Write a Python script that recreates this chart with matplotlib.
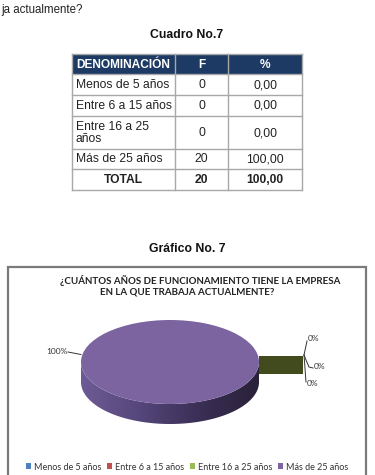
import numpy as np
import matplotlib
matplotlib.use("Agg")
import matplotlib.pyplot as plt
from matplotlib.patches import Rectangle, Polygon, Patch
from matplotlib.colors import LinearSegmentedColormap

# ---------------- data ----------------
categories = ["Menos de 5 años", "Entre 6 a 15 años", "Entre 16 a 25\naños", "Más de 25 años"]
legend_labels = ["Menos de 5 años", "Entre 6 a 15 años", "Entre 16 a 25 años", "Más de 25 años"]
freq = [0, 0, 0, 20]
pct = [0.00, 0.00, 0.00, 100.00]
total_label = "TOTAL"
headers = ["DENOMINACIÓN", "F", "%"]
pie_colors = ["#4f81bd", "#c0504d", "#9bbb59", "#7b64a0"]
legend_colors = ["#4f81bd", "#c0504d", "#9bbb59", "#8064a2"]

W, H = 375, 475
fig = plt.figure(figsize=(W / 100, H / 100), dpi=100)
fig.patch.set_facecolor("white")
ax = fig.add_axes([0, 0, 1, 1])
ax.set_xlim(0, W)
ax.set_ylim(H, 0)
ax.axis("off")

ARIAL = "Liberation Sans"
CAL = "Lato"

def fmt(v):
    return f"{v:.2f}".replace(".", ",")

# top text (continuation of the question from the previous page)
ax.text(1, 10, "ja actualmente?", ha="left", va="center", fontsize=8.3,
        family=ARIAL, color="#222222")

ax.text(187, 35, "Cuadro No.7", ha="center", va="center", fontsize=8.8,
        family=ARIAL, weight="bold", color="#111111")

# ---------------- table ----------------
cols = [72, 175, 228, 302]
rows = [54, 74, 95, 116, 149, 169, 190]
border = "#a8a8a8"
ax.add_patch(Rectangle((cols[0], rows[0]), cols[-1] - cols[0], rows[1] - rows[0],
                       facecolor="#1c3a64", edgecolor="none"))
for i, h in enumerate(headers):
    if i == 0:
        ax.text(cols[0] + 4, (rows[0] + rows[1]) / 2 + 0.5, h, ha="left", va="center",
                fontsize=8.6, family=ARIAL, weight="bold", color="white")
    else:
        ax.text((cols[i] + cols[i + 1]) / 2, (rows[0] + rows[1]) / 2 + 0.5, h,
                ha="center", va="center", fontsize=8.6, family=ARIAL,
                weight="bold", color="white")

body = [[c, str(f), fmt(p)] for c, f, p in zip(categories, freq, pct)]
body.append([total_label, str(sum(freq)), fmt(sum(pct))])
for r, row in enumerate(body):
    y0, y1 = rows[r + 1], rows[r + 2]
    yc = (y0 + y1) / 2 + 0.5
    bold = (r == len(body) - 1)
    for c, val in enumerate(row):
        if c == 0 and not bold:
            ax.text(cols[0] + 4, yc, val, ha="left", va="center", fontsize=8.7,
                    family=ARIAL, color="#222222", linespacing=1.05)
        else:
            ax.text((cols[c] + cols[c + 1]) / 2, yc, val, ha="center", va="center",
                    fontsize=8.7, family=ARIAL, color="#222222",
                    weight="bold" if bold else "normal")
for y in rows[1:]:
    ax.plot([cols[0], cols[-1]], [y, y], color=border, lw=1.0)
ax.plot([cols[0], cols[-1]], [rows[0], rows[0]], color=border, lw=1.0)
for x in cols:
    ax.plot([x, x], [rows[0], rows[-1]], color=border, lw=1.0)

# ---------------- chart ----------------
ax.text(187, 249, "Gráfico No. 7", ha="center", va="center", fontsize=8.8,
        family=ARIAL, weight="bold", color="#111111")

# chart frame
ax.add_patch(Rectangle((7.5, 267), 358.5, 230, facecolor="white",
                       edgecolor="#7a7a7a", lw=1.6))

ax.text(200, 280, "¿CUÁNTOS AÑOS DE FUNCIONAMIENTO TIENE LA EMPRESA", ha="center",
        va="center", fontsize=7, family=CAL, weight="bold", color="#222222")
ax.text(187, 292.5, "EN LA QUE TRABAJA ACTUALMENTE?", ha="center",
        va="center", fontsize=7, family=CAL, weight="bold", color="#222222")

# pie axes (squashed to ellipse)
cx, cy, a, b, depth = 170, 362, 89, 42, 20
d = depth / b
top_px = cy - b
bot_px = cy + b + depth
pax = fig.add_axes([(cx - a) / W, (H - bot_px) / H, 2 * a / W, (bot_px - top_px) / H])
pax.set_zorder(3)

# exploded zero slices (side face visible)
pax.add_patch(Rectangle((1.0, -(374 - cy) / b), (303 - cx) / a - 1.0,
                        (374 - 356) / b, facecolor="#414b1e", edgecolor="none",
                        clip_on=False, zorder=1))

# side of the cylinder with gradient
th = np.linspace(np.pi, 2 * np.pi, 200)
xs = np.concatenate([np.cos(th), np.cos(th[::-1])])
ys = np.concatenate([np.sin(th), np.sin(th[::-1]) - d])
side = Polygon(np.column_stack([xs, ys]), closed=True, facecolor="none",
               edgecolor="none", transform=pax.transData)
pax.add_patch(side)
cmap = LinearSegmentedColormap.from_list("side", ["#6e5b96", "#54467a", "#3a2f55", "#2a2139"])
grad = np.linspace(0, 1, 256).reshape(1, -1)
im = pax.imshow(grad, cmap=cmap, extent=[-1, 1, -1 - d, 0], aspect="auto",
                zorder=2, interpolation="bilinear")
im.set_clip_path(side)

wedges, _ = pax.pie(freq, colors=pie_colors, startangle=0, radius=1.0,
                    wedgeprops=dict(linewidth=0, zorder=3))
pax.set_aspect("auto")
pax.set_xlim(-1, 1)
pax.set_ylim(-1 - d, 1)
pax.axis("off")

# labels (from data)
total = sum(freq)
labs = [f"{round(100 * v / total)}%" for v in freq]
ax.text(68, 351, labs[3], ha="right", va="center", fontsize=6, family=CAL, color="#333333")
ax.plot([68, 81], [352, 354.5], color="#333333", lw=0.7)
lk = dict(color="#333333", lw=0.7)
ax.plot([304, 307], [355, 341], **lk)
ax.text(308, 338.5, labs[0], ha="left", va="center", fontsize=6, family=CAL, color="#333333")
ax.plot([304, 306, 309, 313], [355, 360, 367, 368], **lk)
ax.text(313.5, 366.5, labs[1], ha="left", va="center", fontsize=6, family=CAL, color="#333333")
ax.plot([304, 306], [355, 382], **lk)
ax.text(307, 383.5, labs[2], ha="left", va="center", fontsize=6, family=CAL, color="#333333")

# legend
handles = [Patch(facecolor=c, edgecolor="none") for c in legend_colors]
leg = fig.legend(handles, legend_labels, loc="center", ncol=4,
                 bbox_to_anchor=(187 / W, (H - 467) / H), frameon=False,
                 prop=dict(family=CAL, size=6.5), handlelength=0.6,
                 handleheight=0.6, handletextpad=0.3, columnspacing=0.6,
                 borderpad=0, labelcolor="#333333")

fig.savefig("out.png", dpi=100, facecolor="white")
